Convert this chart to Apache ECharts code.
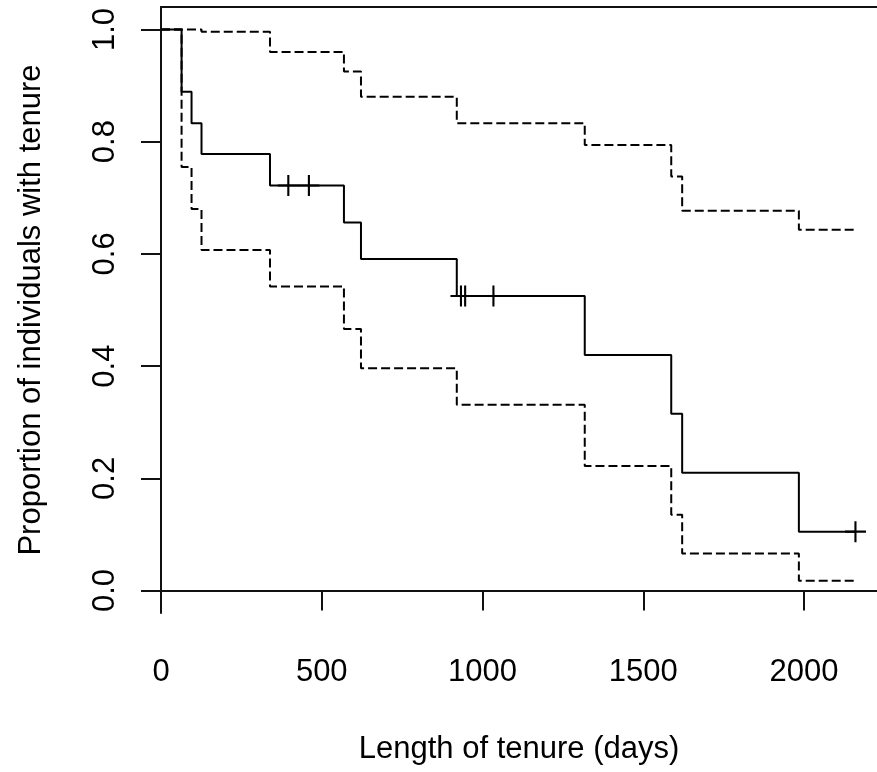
<!DOCTYPE html>
<html>
<head>
<meta charset="utf-8">
<script src="https://cdn.jsdelivr.net/npm/echarts@6/dist/echarts.min.js"></script>
<style>
html,body{margin:0;padding:0;background:#fff;}
#chart{width:877px;height:772px;}
</style>
</head>
<body>
<div id="chart"></div>
<script>
// Kaplan-Meier estimate of tenure (days) with 95% confidence limits
const times = [0, 64, 95, 126, 339, 569, 622, 920, 1318, 1587, 1621, 1984, 2160];
const survival = [1, 0.889, 0.833, 0.778, 0.722, 0.656, 0.591, 0.525, 0.42, 0.315, 0.21, 0.105, 0.105];
const upperCI = [1, 1, 1, 0.996, 0.960, 0.925, 0.880, 0.833, 0.794, 0.738, 0.677, 0.643, 0.643];
const lowerCI = [1, 0.755, 0.68, 0.607, 0.542, 0.466, 0.396, 0.331, 0.222, 0.135, 0.066, 0.0175, 0.0175];
// censored observations (time, survival at that time)
const censorTimes = [396, 460, 933, 946, 1034, 2160];
const censorSurv = [0.722, 0.722, 0.525, 0.525, 0.525, 0.105];
const xTicks = [0, 500, 1000, 1500, 2000];
const yTicks = [0, 0.2, 0.4, 0.6, 0.8, 1.0];

const FONT = '"Liberation Sans", Arial, sans-serif';
const INK = '#000';
const pair = (xs, ys) => xs.map((x, i) => [x, ys[i]]);

const chart = echarts.init(document.getElementById('chart'), null, {renderer: 'canvas'});
const axisLine = {show: true, lineStyle: {color: '#111', width: 2}};
chart.setOption({
  animation: false,
  backgroundColor: '#fff',
  grid: {left: 161, top: 7, right: 0, bottom: 159, containLabel: false},
  xAxis: [{
    type: 'value', min: 0, max: 2227, position: 'bottom',
    name: 'Length of tenure (days)', nameLocation: 'middle', nameGap: 121,
    nameTextStyle: {fontFamily: FONT, fontSize: 31, color: INK},
    axisLine: axisLine,
    axisTick: {show: true, length: 20, inside: false, customValues: xTicks, lineStyle: {color: '#111', width: 2}},
    axisLabel: {show: true, customValues: xTicks, margin: 44, fontFamily: FONT, fontSize: 31, color: INK,
      formatter: v => String(v)},
    splitLine: {show: false}
  }, {
    type: 'value', min: 0, max: 2227, position: 'top',
    axisLine: axisLine, axisTick: {show: false}, axisLabel: {show: false}, splitLine: {show: false}
  }],
  yAxis: [{
    type: 'value', min: -0.04, max: 1.04,
    name: 'Proportion of individuals with tenure', nameLocation: 'middle', nameGap: 114,
    nameTextStyle: {fontFamily: FONT, fontSize: 31, color: INK},
    axisLine: axisLine,
    axisTick: {show: true, length: 20, inside: false, customValues: yTicks, lineStyle: {color: '#111', width: 2}},
    axisLabel: {show: true, customValues: yTicks, rotate: 90, margin: 40, fontFamily: FONT, fontSize: 31, color: INK,
      formatter: v => v.toFixed(1)},
    splitLine: {show: false}
  }],
  series: [{
    type: 'line', step: 'end', data: pair(times, survival), showSymbol: false,
    lineStyle: {color: INK, width: 2}, z: 3
  }, {
    type: 'line', step: 'end', data: pair(times, upperCI), showSymbol: false,
    lineStyle: {color: INK, width: 2, type: [9, 4]}, z: 2
  }, {
    type: 'line', step: 'end', data: pair(times, lowerCI), showSymbol: false,
    lineStyle: {color: INK, width: 2, type: [9, 4]}, z: 2
  }, {
    type: 'scatter', data: pair(censorTimes, censorSurv),
    symbol: 'path://M9,0h2v9h9v2h-9v9h-2v-9h-9v-2h9z', symbolSize: 21,
    itemStyle: {color: INK, opacity: 1}, z: 4
  }]
});
</script>
</body>
</html>
